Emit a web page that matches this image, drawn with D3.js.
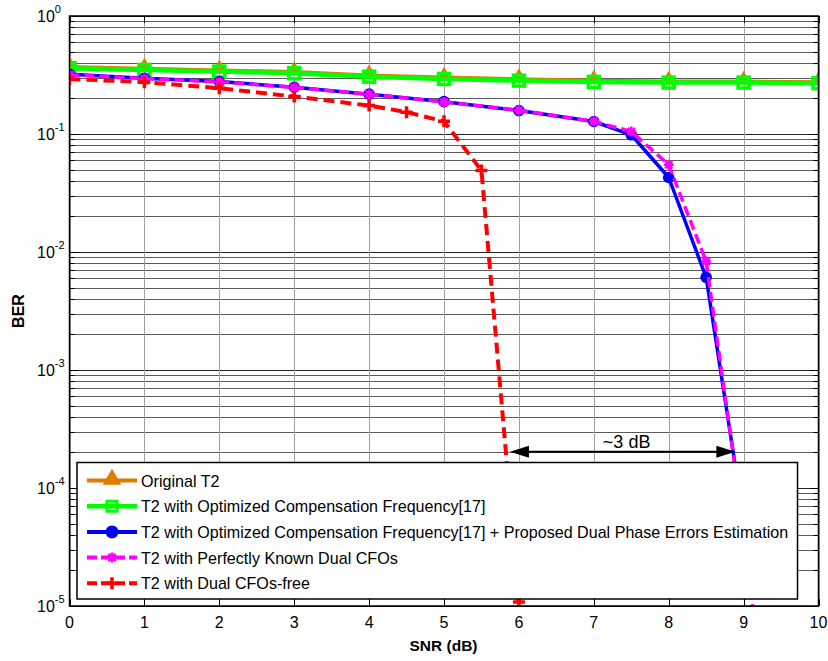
<!DOCTYPE html>
<html><head><meta charset="utf-8">
<script src="https://cdn.jsdelivr.net/npm/d3@7"></script>
<style>body{margin:0;background:#fff} text{font-family:"Liberation Sans",Arial,Helvetica,sans-serif}</style>
</head><body><svg id="c" width="828" height="661"></svg>
<script>
// ---------- data ----------
const snr = [0,1,2,3,4,5,6,7,8,9,10];
const berOriginal  = [0.375,0.363,0.351,0.341,0.318,0.305,0.295,0.287,0.282,0.282,0.279];
const berOptimized = [0.361,0.349,0.338,0.327,0.306,0.293,0.2835,0.2764,0.2727,0.2727,0.2695];
const snrProposed  = [0,1,2,3,4,5,6,7,7.5,8,8.5,9];
const berProposed  = [0.321,0.297,0.278,0.249,0.2176,0.188,0.158,0.1276,0.0985,0.0428,0.0061,5.4e-5];
const snrKnown     = [0,1,2,3,4,5,6,7,7.5,8,8.5,9,9.5];
const berKnown     = [0.318,0.295,0.277,0.248,0.217,0.187,0.159,0.128,0.105,0.0549,0.0083,4.6e-5,8e-8];
const snrFree      = [0,1,2,3,4,4.5,5,5.5,6];
const berFree      = [0.293,0.275,0.2445,0.2077,0.1742,0.1532,0.128,0.049,1.08e-5];
const xTicks = [0,1,2,3,4,5,6,7,8,9,10];
const yTickExp = [0,-1,-2,-3,-4,-5];
const legendLabels = [
  "Original T2",
  "T2 with Optimized Compensation Frequency[17]",
  "T2 with Optimized Compensation Frequency[17] + Proposed Dual Phase Errors Estimation",
  "T2 with Perfectly Known Dual CFOs",
  "T2 with Dual CFOs-free"
];
const annotation = {x1:5.88, x2:8.89, ber:2.03e-4, label:"~3 dB", labelBer:2.2e-4};

// ---------- layout ----------
const svg = d3.select("#c");
const L=69.5, R=818.5, T=16, B=606;
const x = d3.scaleLinear().domain([0,10]).range([L,R]);
const y = d3.scaleLog().domain([1e-5,1]).range([B,T]);

const orange="#E07B00", green="#00FF00", blue="#0000FF", magenta="#FF00FF", red="#FF0000";

// grid
const minor=[];
for(let e=-5;e<0;e++) for(let m=1;m<10;m++) minor.push(m*Math.pow(10,e));
minor.push(1);
const g = svg.append("g");
g.selectAll(".hg").data(minor).enter().append("line")
 .attr("x1",L).attr("x2",R).attr("y1",d=>Math.round(y(d))+0.5).attr("y2",d=>Math.round(y(d))+0.5)
 .attr("stroke",d=>Math.abs(Math.log10(d)%1)<1e-9?"#222":"#5a5a5a").attr("stroke-width",1);
g.selectAll(".vg").data(xTicks).enter().append("line")
 .attr("x1",d=>Math.round(x(d))+0.5).attr("x2",d=>Math.round(x(d))+0.5).attr("y1",T).attr("y2",B)
 .attr("stroke","#a0a0a0").attr("stroke-width",1);

// ticks inward
const tk = svg.append("g").attr("stroke","#000").attr("stroke-width",1);
minor.forEach(d=>{
  const yy=Math.round(y(d))+0.5;
  const len = Math.abs(Math.log10(d)%1)<1e-9?8:5;
  tk.append("line").attr("x1",L).attr("x2",L+len).attr("y1",yy).attr("y2",yy);
  tk.append("line").attr("x1",R-len).attr("x2",R).attr("y1",yy).attr("y2",yy);
});
xTicks.forEach(d=>{
  const xx=Math.round(x(d))+0.5;
  tk.append("line").attr("x1",xx).attr("x2",xx).attr("y1",T).attr("y2",T+7);
  tk.append("line").attr("x1",xx).attr("x2",xx).attr("y1",B-7).attr("y2",B);
});

// series
const clip = svg.append("clipPath").attr("id","pc").append("rect")
  .attr("x",L).attr("y",T).attr("width",R-L).attr("height",B-T);
const plot = svg.append("g").attr("clip-path","url(#pc)");
const line = d3.line().x(d=>x(d[0])).y(d=>y(d[1]));

function plusPath(r){return `M${-r},0L${r},0M0,${-r}L0,${r}`;}
function astPath(r){const q=r*0.72;return `M${-r},0L${r},0M0,${-r}L0,${r}M${-q},${-q}L${q},${q}M${-q},${q}L${q},${-q}`;}

const series = [
  {xs:snr, ys:berOriginal, color:orange, w:2.5, lw:4, dash:null, marker:"tri"},
  {xs:snr, ys:berOptimized, color:green, w:4.5, lw:4.5, dash:null, marker:"sq"},
  {xs:snrProposed, ys:berProposed, color:blue, w:3.5, lw:4, dash:null, marker:"circ"},
  {xs:snrKnown, ys:berKnown, color:magenta, w:3.5, lw:4, dash:"10,5", marker:"ast"},
  {xs:snrFree, ys:berFree, color:red, w:4, lw:4, dash:"11,6", marker:"plus"}
];

function drawMarker(sel, type, color, cx, cy, legend){
  const gg = sel.append("g").attr("transform",`translate(${cx},${cy})`);
  if(type==="tri") gg.append("path").attr("d",d3.symbol(d3.symbolTriangle, legend?150:110)()).attr("fill",color).attr("transform","translate(0,-1)");
  if(type==="sq") gg.append("rect").attr("x",legend?-5:-5.5).attr("y",legend?-5:-5.5).attr("width",legend?10:11).attr("height",legend?10:11)
     .attr("fill","none").attr("stroke",color).attr("stroke-width",legend?3:3.5);
  if(type==="circ") gg.append("circle").attr("r",legend?6.5:5.8).attr("fill",color);
  if(type==="ast") gg.append("path").attr("d",astPath(5)).attr("stroke",color).attr("stroke-width",2.5).attr("fill","none");
  if(type==="plus") gg.append("path").attr("d",plusPath(6)).attr("stroke",color).attr("stroke-width",3.5).attr("fill","none");
}

series.forEach(s=>{
  const pts = s.xs.map((v,i)=>[v,s.ys[i]]);
  plot.append("path").datum(pts).attr("d",line).attr("fill","none")
    .attr("stroke",s.color).attr("stroke-width",s.w).attr("stroke-dasharray",s.dash)
    .attr("stroke-linejoin","round");
  pts.forEach(p=>drawMarker(plot, s.marker, s.color, x(p[0]), y(p[1]), false));
});

// frame
svg.append("rect").attr("x",L).attr("y",T).attr("width",R-L).attr("height",B-T)
  .attr("fill","none").attr("stroke","#000").attr("stroke-width",1.5);

// axes labels
svg.selectAll(".xl").data(xTicks).enter().append("text")
  .attr("x",d=>x(d)).attr("y",628).attr("text-anchor","middle").attr("font-size",16).text(d=>d);
yTickExp.forEach(e=>{
  const t = svg.append("text").attr("x",37).attr("y",y(Math.pow(10,e))+6).attr("font-size",16);
  t.append("tspan").text("10");
  t.append("tspan").attr("dy",-9).attr("font-size",11).text(e);
});
svg.append("text").attr("x",443.5).attr("y",651).attr("text-anchor","middle")
  .attr("font-size",15.5).attr("font-weight","bold").text("SNR (dB)");
svg.append("text").attr("transform","translate(24,311) rotate(-90)").attr("text-anchor","middle")
  .attr("font-size",16).attr("font-weight","bold").text("BER");

// annotation arrow
const ay = y(annotation.ber), ax1=x(annotation.x1), ax2=x(annotation.x2);
svg.append("line").attr("x1",ax1+15).attr("x2",ax2-15).attr("y1",ay).attr("y2",ay).attr("stroke","#000").attr("stroke-width",2);
svg.append("path").attr("d",`M${ax1},${ay}L${ax1+19},${ay-6}L${ax1+19},${ay+6}Z`).attr("fill","#000");
svg.append("path").attr("d",`M${ax2},${ay}L${ax2-19},${ay-6}L${ax2-19},${ay+6}Z`).attr("fill","#000");
svg.append("text").attr("x",(ax1+ax2)/2+4).attr("y",y(annotation.labelBer)).attr("text-anchor","middle")
  .attr("font-size",18).text(annotation.label);

// legend
const lg = svg.append("g");
lg.append("rect").attr("x",77).attr("y",462.5).attr("width",720.5).attr("height",136.5)
  .attr("fill","#fff").attr("stroke","#000").attr("stroke-width",1.5);
series.forEach((s,i)=>{
  const yy = 480.5 + i*25.7;
  lg.append("line").attr("x1",87).attr("x2",137).attr("y1",yy).attr("y2",yy)
    .attr("stroke",s.color).attr("stroke-width",s.lw).attr("stroke-dasharray",s.dash?"10,4":null);
  drawMarker(lg, s.marker, s.color, 112, yy, true);
  lg.append("text").attr("x",141).attr("y",yy+6).attr("font-size",16.1).text(legendLabels[i]);
});
</script></body></html>
